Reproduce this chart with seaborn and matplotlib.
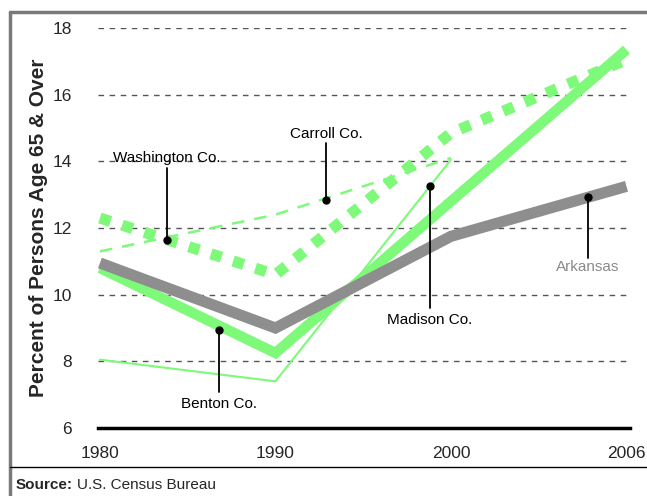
import matplotlib
matplotlib.use("Agg")
import matplotlib.pyplot as plt
from matplotlib.lines import Line2D
import numpy as np
import pandas as pd
import seaborn as sns

# data
years = ["1980", "1990", "2000", "2006"]
arkansas = [10.95, 9.0, 11.75, 13.25]
benton = [10.8, 8.25, 12.8, 17.35]
washington = [12.3, 10.6, 14.85, 17.05]
carroll = [11.3, 12.4, 14.1, np.nan]
madison = [8.05, 7.4, 14.05, np.nan]
y_ticks = [6, 8, 10, 12, 14, 16, 18]

GREEN = "#7ef97a"
GREY = "#8e8e8e"

sns.set_style("white")
plt.rcParams["font.family"] = ["Liberation Sans", "DejaVu Sans"]

pos = np.arange(len(years))
df = pd.DataFrame({"pos": pos, "Arkansas": arkansas, "Benton": benton,
                   "Washington": washington, "Carroll": carroll, "Madison": madison})

fig = plt.figure(figsize=(6.47, 4.96), dpi=100)
ax = fig.add_axes([98 / 647, 68 / 496, 532 / 647, 400 / 496])

# series, back to front
sns.lineplot(data=df, x="pos", y="Madison", ax=ax, color=GREEN, lw=1.5)
sns.lineplot(data=df, x="pos", y="Carroll", ax=ax, color=GREEN, lw=1.8,
             linestyle=(0, (5, 4)))
sns.lineplot(data=df, x="pos", y="Washington", ax=ax, color=GREEN, lw=8,
             linestyle=(0, (1, 1.1)))
sns.lineplot(data=df, x="pos", y="Benton", ax=ax, color=GREEN, lw=7.5,
             solid_capstyle="butt", solid_joinstyle="miter")
sns.lineplot(data=df, x="pos", y="Arkansas", ax=ax, color=GREY, lw=8,
             solid_capstyle="butt", solid_joinstyle="miter")

ax.set_xlim(-0.011, 3.02)
ax.set_ylim(6, 18)
ax.set_xticks(pos)
ax.set_xticklabels(years)
ax.set_yticks(y_ticks)
ax.tick_params(axis="y", length=0, pad=19, labelsize=12.5)
ax.tick_params(axis="x", length=0, pad=13, labelsize=12.5)
ax.set_xlabel("")
ax.set_ylabel("Percent of Persons Age 65 & Over", fontsize=15,
              fontweight="bold", labelpad=3)

for v in y_ticks[1:]:
    ax.axhline(v, color="#555555", lw=1, linestyle=(0, (4, 4)), zorder=0)
for s in ["top", "right", "left"]:
    ax.spines[s].set_visible(False)
ax.spines["bottom"].set_color("black")
ax.spines["bottom"].set_linewidth(2.5)


def label(x, y, y_end, y_text, text, color="black"):
    ax.plot([x, x], [y, y_end], color="black", lw=1.3, zorder=5)
    ax.plot(x, y, "o", color="black", ms=5, zorder=6)
    ax.text(x, y_text, text, ha="center", va="center", fontsize=11,
            color=color, zorder=6)


label(0.38, 11.64, 13.8, 14.1, "Washington Co.")
label(1.29, 12.84, 14.55, 14.82, "Carroll Co.")
label(1.88, 13.26, 9.6, 9.24, "Madison Co.")
label(0.68, 8.94, 7.08, 6.72, "Benton Co.")
label(2.78, 12.93, 11.1, 10.83, "Arkansas", color="#8a8a8a")

# frame and source note
fig.add_artist(Line2D([10 / 647, 10 / 647], [0, 1 - 12 / 496],
                      color="#7a7a7a", lw=2.5, transform=fig.transFigure))
fig.add_artist(Line2D([10 / 647, 1], [1 - 12 / 496, 1 - 12 / 496],
                      color="#7a7a7a", lw=2.5, transform=fig.transFigure))
fig.add_artist(Line2D([10 / 647, 1], [1 - 467 / 496, 1 - 467 / 496],
                      color="black", lw=1, transform=fig.transFigure))
src = fig.text(16 / 647, 1 - 485 / 496, "Source:", fontsize=11,
               fontweight="bold", va="center", ha="left")
ax.annotate("U.S. Census Bureau", xy=(1, 0.5), xycoords=src,
            xytext=(3, 0), textcoords="offset points", fontsize=11,
            va="center", ha="left", annotation_clip=False)

fig.savefig("out.png", dpi=100)
